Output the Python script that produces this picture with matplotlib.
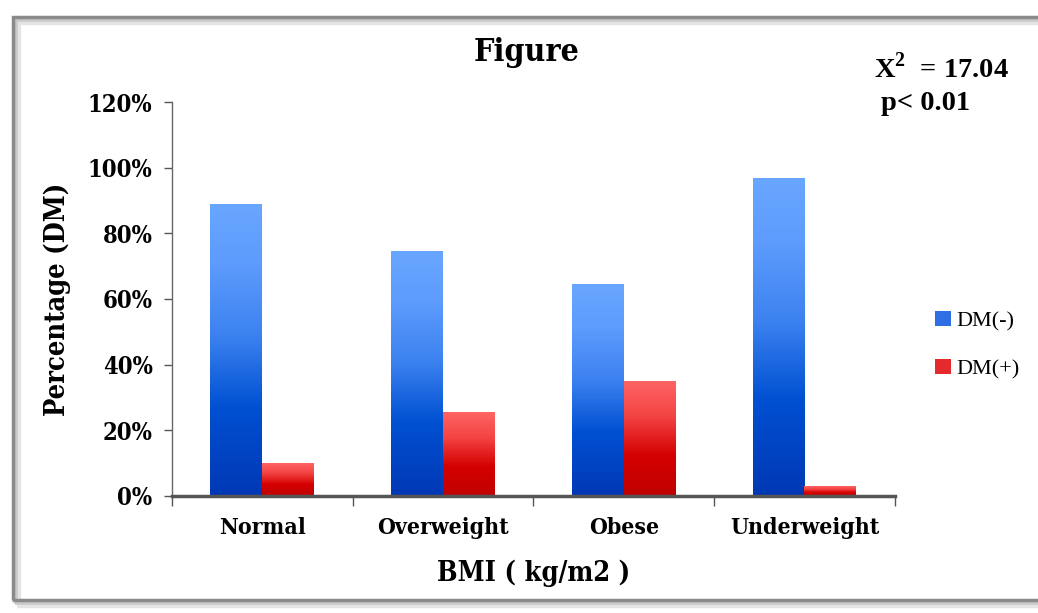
import matplotlib
matplotlib.use("Agg")
import matplotlib.pyplot as plt
from matplotlib.colors import LinearSegmentedColormap
from matplotlib.patches import Rectangle
import numpy as np

# BMI groups and share of patients with / without diabetes
categories = ["Normal", "Overweight", "Obese", "Underweight"]
dm_neg = [0.89, 0.745, 0.645, 0.97]
dm_pos = [0.10, 0.255, 0.35, 0.03]
series_names = ["DM(-)", "DM(+)"]
yticks = [0, 0.2, 0.4, 0.6, 0.8, 1.0, 1.2]

plt.rcParams['font.family'] = ['Liberation Serif', 'DejaVu Serif']
plt.rcParams['mathtext.fontset'] = 'custom'
plt.rcParams['mathtext.rm'] = 'Liberation Serif:bold'
plt.rcParams['mathtext.bf'] = 'Liberation Serif:bold'

# narrow bold serif for the chart labels
cond = dict(family="DejaVu Serif", fontstretch="condensed", fontweight="bold")

blue_cmap = LinearSegmentedColormap.from_list(
	"blues", [(0, "#0038b4"), (0.3, "#0050d2"), (0.55, "#3c82f0"), (0.8, "#5e9cfd"), (1, "#68a6ff")])
red_cmap = LinearSegmentedColormap.from_list(
	"reds", [(0, "#c00000"), (0.35, "#d40000"), (0.7, "#f44444"), (1, "#ff6464")])

fig = plt.figure(figsize=(10.38, 6.13), dpi=100)
ax = fig.add_axes([0.1657, 0.1909, 0.6963, 0.6427])

# frame around the whole chart, with a soft shadow
for off, col, lw in [(4, "#e4e4e4", 6), (2, "#c8c8c8", 4), (0, "#8a8a8a", 2.5)]:
	fig.patches.append(Rectangle((13 / 1038 + off / 1038, 13 / 613 - off / 613),
		1.2, 1 - 30 / 613, transform=fig.transFigure, fill=False,
		edgecolor=col, linewidth=lw, zorder=-10))

x = np.arange(len(categories))
w = 0.287


def gradient_bars(xs, heights, cmap):
	bars = ax.bar(xs, heights, w, facecolor="none", edgecolor="none", zorder=3)
	grad = np.linspace(0, 1, 256).reshape(-1, 1)
	for b in bars:
		x0 = b.get_x()
		h = b.get_height()
		im = ax.imshow(grad, cmap=cmap, origin="lower", aspect="auto",
			extent=[x0, x0 + w, 0, h], zorder=2)
		im.set_clip_path(b)
	return bars


gradient_bars(x - w / 2, dm_neg, blue_cmap)
gradient_bars(x + w / 2, dm_pos, red_cmap)

ax.set_xlim(-0.5, len(categories) - 0.5)
ax.set_ylim(0, 1.2)

ax.set_yticks(yticks)
ax.set_yticklabels(["%d%%" % round(v * 100) for v in yticks], fontsize=17, **cond)
ax.set_xticks(x)
ax.set_xticklabels(categories, fontsize=16.5, **cond)
ax.set_xticks(np.arange(-0.5, len(categories)), minor=True)
ax.tick_params(axis="x", which="major", length=0, pad=15)
ax.tick_params(axis="x", which="minor", length=7, width=1, color="#555555")
ax.tick_params(axis="y", length=6, width=1, color="#555555", pad=8)

for side in ["top", "right"]:
	ax.spines[side].set_visible(False)
ax.spines["left"].set_color("#666666")
ax.spines["left"].set_linewidth(1)
ax.spines["bottom"].set_color("#555555")
ax.spines["bottom"].set_linewidth(2.5)

ax.set_xlabel("BMI ( kg/m2 )", fontsize=19.5, labelpad=15, **cond)
ax.set_ylabel("Percentage (DM)", fontsize=19.5, labelpad=12, **cond)

fig.text(527 / 1038, 1 - 52 / 613, "Figure", ha="center", va="center",
	fontsize=23, **cond)
fig.text(874 / 1038, 1 - 68 / 613, r"X$^{2}$  = 17.04", ha="left", va="center",
	fontsize=20.5, fontweight="bold")
fig.text(881 / 1038, 1 - 103 / 613, "p< 0.01", ha="left", va="center",
	fontsize=20.5, fontweight="bold")

handles = [Rectangle((0, 0), 1, 1, facecolor="#2f6fe6"),
	Rectangle((0, 0), 1, 1, facecolor="#e42a2a")]
fig.legend(handles, series_names, loc="center left", bbox_to_anchor=(915 / 1038, 1 - 345 / 613),
	frameon=False, fontsize=16, handlelength=0.7, handleheight=0.7,
	handletextpad=0.25, labelspacing=1.25)

fig.savefig("out.png", dpi=100)
